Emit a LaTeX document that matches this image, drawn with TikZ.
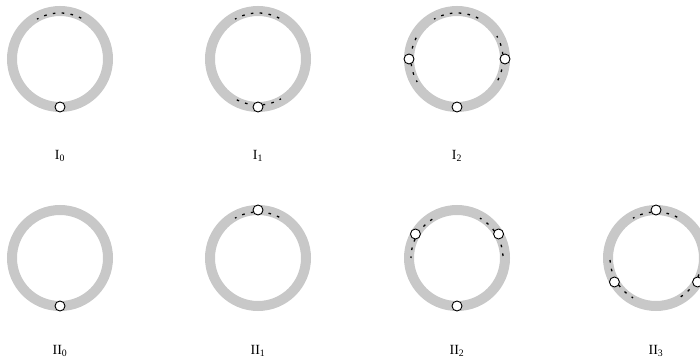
\documentclass[tikz,border=0pt]{standalone}
\usepackage{fontspec}
\setmainfont{Liberation Serif}
\definecolor{ringgray}{HTML}{C8C8C8}

\begin{document}
\begin{tikzpicture}[x=1pt,y=1pt,
 ring/.style={draw=ringgray,line width=10pt},
 marks/.style={draw=black,line width=1.3pt,dash pattern=on 2.6pt off 6.3pt,dash phase=-2pt},
 spot/.style={circle,draw=black,fill=white,line width=0.9pt,inner sep=0pt,minimum size=10pt},
 lab/.style={font=\fontsize{14}{16}\selectfont}]
\useasboundingbox (0,0) rectangle (700,363);
% rings
\foreach \n/\x/\y in {a0/60/304,a1/258/304,a2/457/304,b0/60/105,b1/258/105,b2/457/105,b3/656/105}
 \draw[ring] (\x,\y) coordinate (\n) circle[radius=48];
% dotted arcs
\foreach \c/\m in {a0/90,a1/90,a1/270,a2/90,a2/0,a2/180,b1/90,b2/30,b2/150,b3/90,b3/210,b3/330}
 \draw[marks] ([shift={(\m-30:46)}]\c) arc[start angle=\m-30,end angle=\m+30,radius=46];
% marked points
\foreach \c/\m [count=\i] in {a0/270,a1/270,a2/0,a2/180,a2/270,b0/270,b1/90,b2/30,b2/150,b2/270,b3/90,b3/210,b3/330}
 \node[spot] (p\i) at ([shift={(\m:48)}]\c) {};
% labels
\node[lab] (la0) at (60,207) {I\textsubscript{0}};
\node[lab] (la1) at (258,207) {I\textsubscript{1}};
\node[lab] (la2) at (457,207) {I\textsubscript{2}};
\node[lab] (lb0) at (60,12) {II\textsubscript{0}};
\node[lab] (lb1) at (258,12) {II\textsubscript{1}};
\node[lab] (lb2) at (457,12) {II\textsubscript{2}};
\node[lab] (lb3) at (656,12) {II\textsubscript{3}};
\end{tikzpicture}
\end{document}
